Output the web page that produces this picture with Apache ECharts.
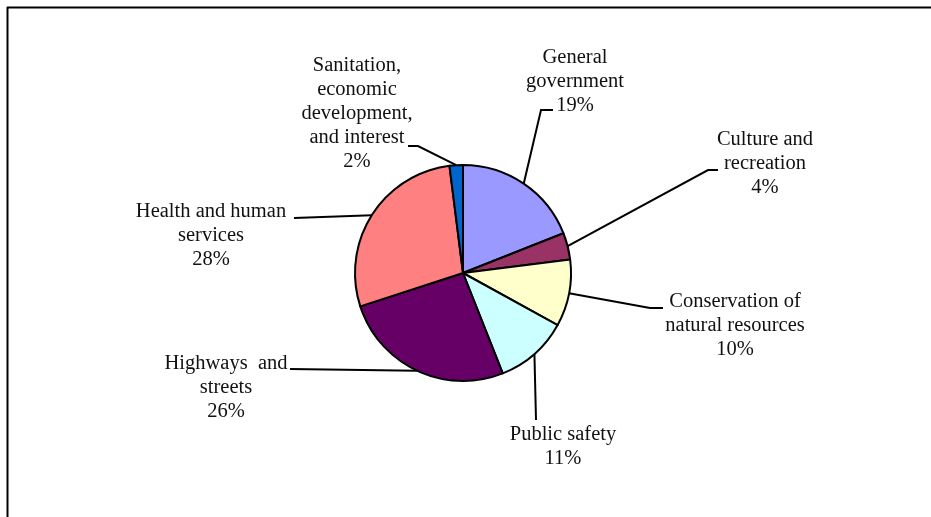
<!DOCTYPE html>
<html><head><meta charset="utf-8">
<script src="https://cdn.jsdelivr.net/npm/echarts@6/dist/echarts.min.js"></script>
<style>html,body{margin:0;padding:0;background:#fff}#c{width:931px;height:517px}</style>
</head><body><div id="c"></div>
<script>
// Data
const categories = [
  'General\ngovernment',
  'Culture and\nrecreation',
  'Conservation of\nnatural resources',
  'Public safety',
  'Highways  and\nstreets',
  'Health and human\nservices',
  'Sanitation,\neconomic\ndevelopment,\nand interest'
];
const values = [19, 4, 10, 11, 26, 28, 2];
const colors = ['#9999FF', '#993366', '#FFFFCC', '#CCFFFF', '#660066', '#FF8080', '#0066CC'];

// Label placement (text block centres and leader-line bends)
const labelPlacement = [
  { x: 575, y: 82,  pts: [[541, 110], [553, 110]] },
  { x: 765, y: 164, pts: [[708, 170], [718, 170]] },
  { x: 735, y: 326, pts: [[650, 308], [663, 308]] },
  { x: 563, y: 447, pts: [[536, 420]] },
  { x: 226, y: 388, pts: [[290, 369]] },
  { x: 211, y: 236, pts: [[294, 218]] },
  { x: 357, y: 114, pts: [[418, 146], [408, 146]] }
];

const CX = 463, CY = 273, R = 108;
const total = values.reduce((a, b) => a + b, 0);
function edgePoint(i) {
  let cum = 0;
  for (let k = 0; k < i; k++) cum += values[k];
  const a = (cum + values[i] / 2) / total * Math.PI * 2;
  return [CX + R * Math.sin(a), CY - R * Math.cos(a)];
}

const chart = echarts.init(document.getElementById('c'), null, { renderer: 'canvas' });
chart.setOption({
  animation: false,
  backgroundColor: '#fff',
  graphic: [
    { type: 'line', shape: { x1: 7, y1: 7.5, x2: 931, y2: 7.5 }, style: { stroke: '#000', lineWidth: 2 } },
    { type: 'line', shape: { x1: 7.5, y1: 7, x2: 7.5, y2: 517 }, style: { stroke: '#000', lineWidth: 2 } }
  ],
  series: [{
    type: 'pie',
    center: [CX, CY],
    radius: R,
    startAngle: 90,
    clockwise: true,
    avoidLabelOverlap: false,
    data: categories.map((n, i) => ({ name: n, value: values[i], itemStyle: { color: colors[i] } })),
    itemStyle: { borderColor: '#000', borderWidth: 2 },
    emphasis: { disabled: true },
    label: {
      show: true,
      formatter: p => p.name + '\n' + p.value + '%',
      fontFamily: 'Liberation Serif',
      fontSize: 20.5,
      lineHeight: 24,
      color: '#111',
      align: 'center'
    },
    labelLine: { show: true, length: 20, length2: 10, lineStyle: { color: '#000', width: 2 } },
    labelLayout: function (params) {
      const i = params.dataIndex;
      const p = labelPlacement[i];
      const start = (params.labelLinePoints && params.labelLinePoints[0]) || edgePoint(i);
      return {
        x: p.x, y: p.y, align: 'center', verticalAlign: 'middle',
        labelLinePoints: [start].concat(p.pts.length === 1 ? [p.pts[0], p.pts[0]] : p.pts)
      };
    }
  }]
});
</script>
</body></html>
